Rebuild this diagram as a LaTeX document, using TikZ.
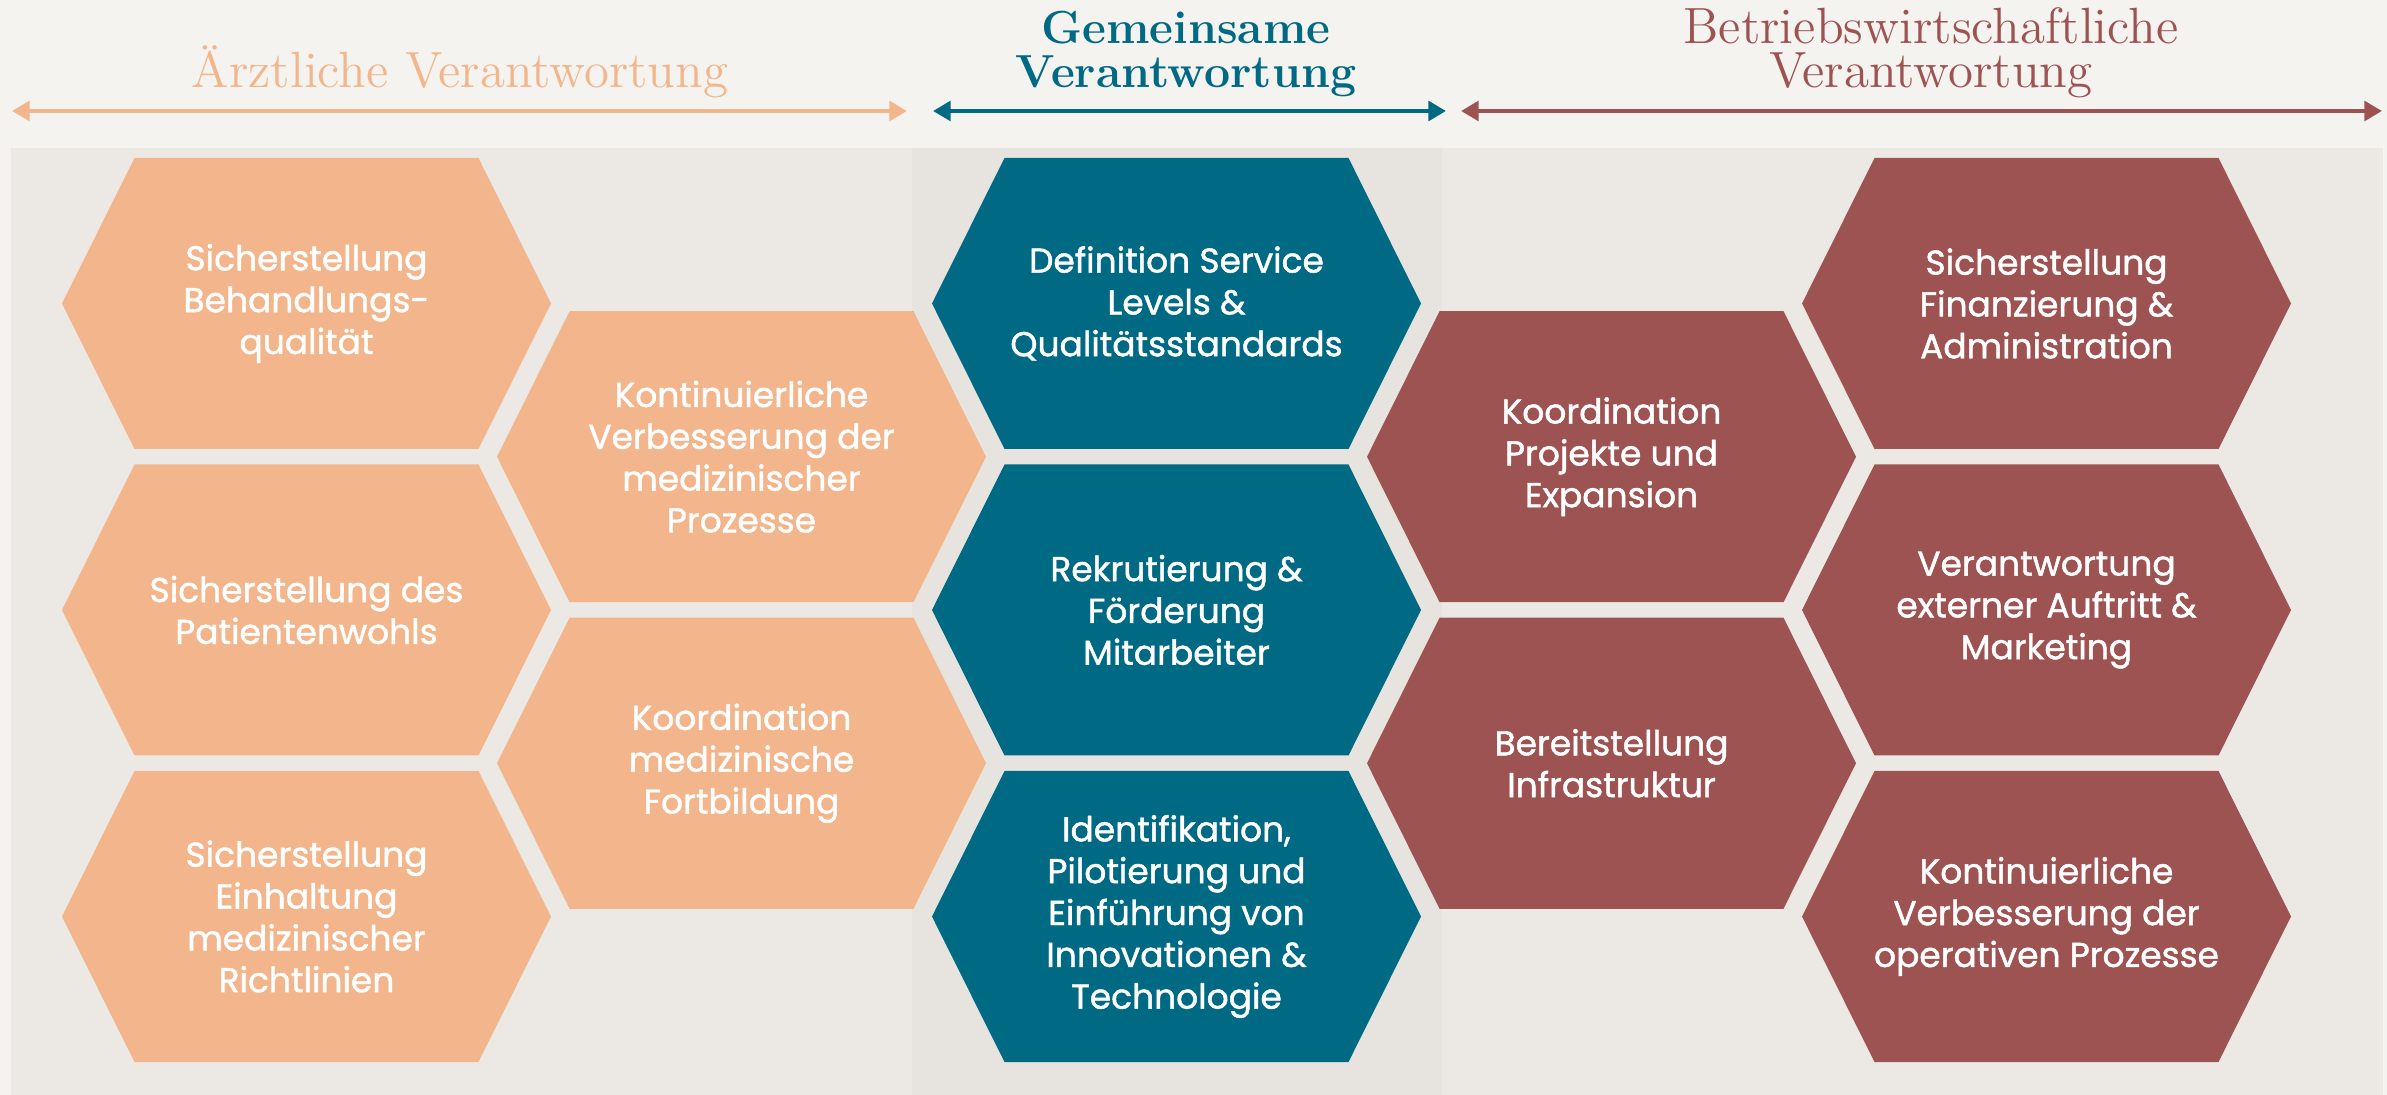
\documentclass[tikz,border=0pt]{standalone}
\usepackage{fontspec}
\usepackage{xcolor}
\usepackage{tikz}
\usetikzlibrary{arrows.meta,positioning}
\newfontfamily\hexfont[FakeBold=1.3]{Poppins}

\begin{document}
\begin{tikzpicture}[thick,
  hex text/.style={text=white,align=center,font=\hexfont\fontsize{9.8}{11.9}\selectfont},
  head text/.style={align=center,anchor=base,font=\fontsize{14.5}{12.6}\selectfont},
  span/.style={line width=1.4pt,{Triangle[length=5pt,width=5.5pt]}-{Triangle[length=5pt,width=5.5pt]}}]
  \definecolor{page}{HTML}{F4F3EF}
  \definecolor{panel}{HTML}{ECE9E4}
  \definecolor{midpanel}{HTML}{E7E4DF}
  \definecolor{arzt}{HTML}{F3B68C}
  \definecolor{gem}{HTML}{006983}
  \definecolor{bwl}{HTML}{9E5353}
  \useasboundingbox (0,0) rectangle (23.87,-10.95);
  % 背景
  \fill[page] (0,0) rectangle (23.87,-10.95);
  \fill[panel] (0.11,-1.48) rectangle (23.83,-10.95);
  \fill[midpanel] (9.12,-1.48) rectangle (14.42,-10.95);
  % 标题
  \node[head text,text=arzt] (tA) at (4.60,-0.88) {Ärztliche Verantwortung};
  \node[head text,text=gem,font=\bfseries\fontsize{13.2}{12.6}\selectfont] (tG) at (11.86,-0.88) {Gemeinsame\\Verantwortung};
  \node[head text,text=bwl] (tB) at (19.31,-0.88) {Betriebswirtschaftliche\\Verantwortung};
  % 箭头
  \coordinate (aA1) at (0.12,-1.11);
  \coordinate (aA2) at (9.07,-1.11);
  \coordinate (aG1) at (9.33,-1.11);
  \coordinate (aG2) at (14.46,-1.11);
  \coordinate (aB1) at (14.61,-1.11);
  \coordinate (aB2) at (23.82,-1.11);
  \draw[span,arzt] (aA1) -- (aA2);
  \draw[span,gem] (aG1) -- (aG2);
  \draw[span,bwl] (aB1) -- (aB2);
  % 六边形
  \foreach \nm/\x/\y/\col/\txt in {
      hA1/3.065/-3.035/arzt/{Sicherstellung\\Behandlungs-\\qualität},
      hA2/3.065/-6.100/arzt/{Sicherstellung des\\Patientenwohls},
      hA3/3.065/-9.165/arzt/{Sicherstellung\\Einhaltung\\medizinischer\\Richtlinien},
      hA4/7.415/-4.5675/arzt/{Kontinuierliche\\Verbesserung der\\medizinischer\\Prozesse},
      hA5/7.415/-7.6325/arzt/{Koordination\\medizinische\\Fortbildung},
      hG1/11.765/-3.035/gem/{Definition Service\\Levels \&\\Qualitätsstandards},
      hG2/11.765/-6.100/gem/{Rekrutierung \&\\Förderung\\Mitarbeiter},
      hG3/11.765/-9.165/gem/{Identifikation,\\Pilotierung und\\Einführung von\\Innovationen \&\\Technologie},
      hB1/16.115/-4.5675/bwl/{Koordination\\Projekte und\\Expansion},
      hB2/16.115/-7.6325/bwl/{Bereitstellung\\Infrastruktur},
      hB3/20.465/-3.035/bwl/{Sicherstellung\\Finanzierung \&\\Administration},
      hB4/20.465/-6.100/bwl/{Verantwortung\\externer Auftritt \&\\Marketing},
      hB5/20.465/-9.165/bwl/{Kontinuierliche\\Verbesserung der\\operativen Prozesse}}{
      \fill[\col] (\x-2.445,\y) -- ++(0.725,1.455) -- ++(3.44,0) -- ++(0.725,-1.455)
        -- ++(-0.725,-1.455) -- ++(-3.44,0) -- cycle;
      \node[hex text] (\nm) at (\x,\y) {\txt};
    }
\end{tikzpicture}
\end{document}
